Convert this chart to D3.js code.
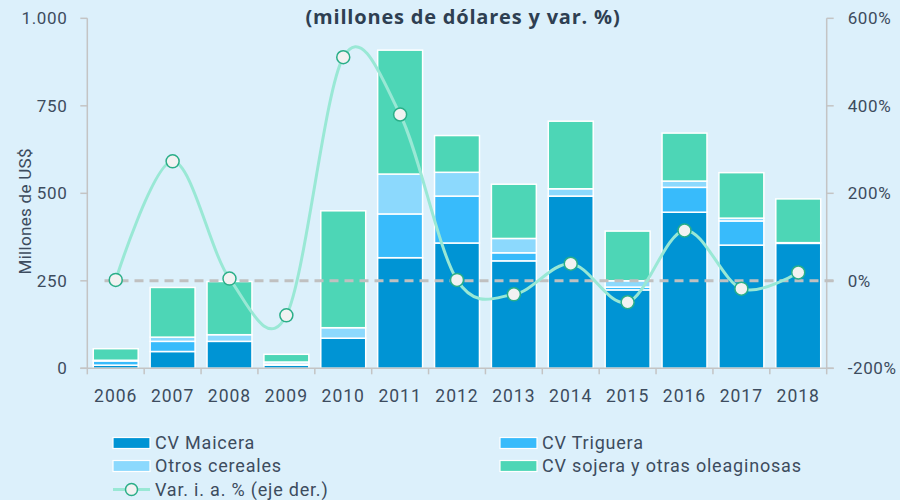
<!DOCTYPE html>
<html>
<head>
<meta charset="utf-8">
<script src="https://cdn.jsdelivr.net/npm/d3@7"></script>
<style>
  html, body { margin: 0; padding: 0; background: #dcf0fb; }
  svg { display: block; }
  text { font-family: Roboto, "Noto Sans", sans-serif; }
</style>
</head>
<body>
<svg id="chart" width="900" height="500"></svg>
<script>
const years = ["2006","2007","2008","2009","2010","2011","2012","2013","2014","2015","2016","2017","2018"];
const maicera = [9, 48, 77, 9, 86, 316, 358, 307, 492, 224, 446, 352, 357];
const triguera = [12, 29, 0, 3, 0, 125, 134, 23, 0, 8, 71, 69, 0];
const otrosCereales = [2, 12, 19, 6, 30, 114, 68, 41, 21, 18, 18, 8, 2];
const sojera = [33, 142, 152, 22, 334, 354, 105, 155, 193, 142, 137, 130, 125];
const variacion = [2, 273, 5, -79, 511, 380, 2, -31, 39, -49, 115, -18, 19];
const leftTicks = [0, 250, 500, 750, 1000];
const rightTicks = [-200, 0, 200, 400, 600];
const seriesNames = ["CV Maicera", "CV Triguera", "Otros cereales", "CV sojera y otras oleaginosas"];
const lineName = "Var. i. a. % (eje der.)";
const titleText = "(millones de dólares y var. %)";
const yLabel = "Millones de US$";

const colors = ["#0094d4", "#38bbfb", "#8cd9fd", "#4dd6b6"];
const textColor = "#3d4c5e";
const axisColor = "#c4c4c4";

const svg = d3.select("#chart");
const L = 87.3, R = 826.7, T = 18.3, B = 368.3;

const x = d3.scaleBand().domain(years).range([L, R]).paddingInner(0.21).paddingOuter(0.105);
const y = d3.scaleLinear().domain([0, 1000]).range([B, T]);
const yR = d3.scaleLinear().domain([-200, 600]).range([B, T]);
const step = x.step();
const gapHalf = step * 0.21 / 2;

// stacked data
const table = years.map((yr, i) => ({ year: yr, s0: maicera[i], s1: triguera[i], s2: otrosCereales[i], s3: sojera[i] }));
const stack = d3.stack().keys(["s0", "s1", "s2", "s3"])(table);

svg.append("g").selectAll("g").data(stack).join("g")
  .attr("fill", (d, i) => colors[i])
  .selectAll("rect").data(d => d).join("rect")
  .filter(d => d[1] - d[0] > 0)
  .attr("x", d => x(d.data.year))
  .attr("width", x.bandwidth())
  .attr("y", d => y(d[1]))
  .attr("height", d => y(d[0]) - y(d[1]))
  .attr("stroke", "#ffffff")
  .attr("stroke-width", 1.5);

// axes
const gAx = svg.append("g").attr("stroke", axisColor).attr("stroke-width", 1.5).attr("fill", "none");
gAx.append("line").attr("x1", L).attr("x2", L).attr("y1", y(1000)).attr("y2", B);
gAx.append("line").attr("x1", R).attr("x2", R).attr("y1", yR(600)).attr("y2", B);
gAx.append("line").attr("x1", L - 7).attr("x2", R + 7).attr("y1", B).attr("y2", B);
leftTicks.forEach(t => gAx.append("line").attr("x1", L - 7).attr("x2", L).attr("y1", y(t)).attr("y2", y(t)));
rightTicks.forEach(t => gAx.append("line").attr("x1", R).attr("x2", R + 7).attr("y1", yR(t)).attr("y2", yR(t)));
years.forEach(yr => gAx.append("line").attr("x1", x(yr) - gapHalf).attr("x2", x(yr) - gapHalf).attr("y1", B).attr("y2", B + 6));
gAx.append("line").attr("x1", R).attr("x2", R).attr("y1", B).attr("y2", B + 6);

const fmt = d3.formatLocale({ decimal: ",", thousands: ".", grouping: [3], currency: ["", ""] }).format(",");

svg.append("g").selectAll("text").data(leftTicks).join("text")
  .attr("x", L - 20).attr("y", d => y(d)).attr("dy", "0.35em")
  .attr("text-anchor", "end").attr("fill", textColor)
  .style("font-size", "17px").style("letter-spacing", "0.6px")
  .text(d => fmt(d));

svg.append("g").selectAll("text").data(rightTicks).join("text")
  .attr("x", R + 21).attr("y", d => yR(d)).attr("dy", "0.35em")
  .attr("text-anchor", "start").attr("fill", textColor)
  .style("font-size", "17px").style("letter-spacing", "0.6px")
  .text(d => d + "%");

svg.append("g").selectAll("text").data(years).join("text")
  .attr("x", d => x(d) + x.bandwidth() / 2).attr("y", B + 34)
  .attr("text-anchor", "middle").attr("fill", textColor)
  .style("font-size", "17.5px").style("letter-spacing", "1px")
  .text(d => d);

svg.append("text")
  .attr("transform", `translate(31, ${(y(1000) + B) / 2 + 18}) rotate(-90)`)
  .attr("text-anchor", "middle").attr("fill", textColor)
  .style("font-size", "17px").style("letter-spacing", "0.3px")
  .text(yLabel);

// title
svg.append("text")
  .attr("x", 463).attr("y", 24)
  .attr("text-anchor", "middle").attr("fill", "#2e3f52")
  .style("font-family", "'Open Sans', sans-serif")
  .style("font-size", "20px").style("font-weight", "700").style("letter-spacing", "0.8px")
  .text(titleText);

// zero reference line
svg.append("line")
  .attr("x1", x(years[0]) + x.bandwidth() * 0.25).attr("x2", R + 7)
  .attr("y1", yR(0)).attr("y2", yR(0))
  .attr("stroke", "#c0c0c0").attr("stroke-width", 3).attr("stroke-dasharray", "9,6");

// line
const cx = d => x(d) + x.bandwidth() / 2;
const line = d3.line().x((d, i) => cx(years[i])).y(d => yR(d)).curve(d3.curveCardinal.tension(0));
svg.append("path").datum(variacion).attr("d", line)
  .attr("fill", "none").attr("stroke", "#99e8d5").attr("stroke-width", 3);
svg.append("g").selectAll("circle").data(variacion).join("circle")
  .attr("cx", (d, i) => cx(years[i])).attr("cy", d => yR(d)).attr("r", 6.5)
  .attr("fill", "#f2f2f2").attr("stroke", "#2aae88").attr("stroke-width", 1.5);

// legend
const leg = svg.append("g");
const legItems = [
  { name: seriesNames[0], c: colors[0], lx: 113, ly: 443 },
  { name: seriesNames[1], c: colors[1], lx: 500, ly: 443 },
  { name: seriesNames[2], c: colors[2], lx: 113, ly: 466 },
  { name: seriesNames[3], c: colors[3], lx: 500, ly: 466 }
];
legItems.forEach(it => {
  leg.append("rect").attr("x", it.lx).attr("y", it.ly - 5.5).attr("width", 37).attr("height", 11)
    .attr("fill", it.c).attr("stroke", "#ffffff").attr("stroke-width", 1.2);
  leg.append("text").attr("x", it.lx + 42).attr("y", it.ly).attr("dy", "0.35em")
    .attr("fill", textColor).style("font-size", "18px").style("letter-spacing", "0.8px").text(it.name);
});
leg.append("line").attr("x1", 113).attr("x2", 150).attr("y1", 489.5).attr("y2", 489.5)
  .attr("stroke", "#99e8d5").attr("stroke-width", 3);
leg.append("circle").attr("cx", 131.5).attr("cy", 489.5).attr("r", 6)
  .attr("fill", "#f2f2f2").attr("stroke", "#2aae88").attr("stroke-width", 1.5);
leg.append("text").attr("x", 155).attr("y", 489.5).attr("dy", "0.35em")
  .attr("fill", textColor).style("font-size", "18px").style("letter-spacing", "0.8px").text(lineName);
</script>
</body>
</html>
